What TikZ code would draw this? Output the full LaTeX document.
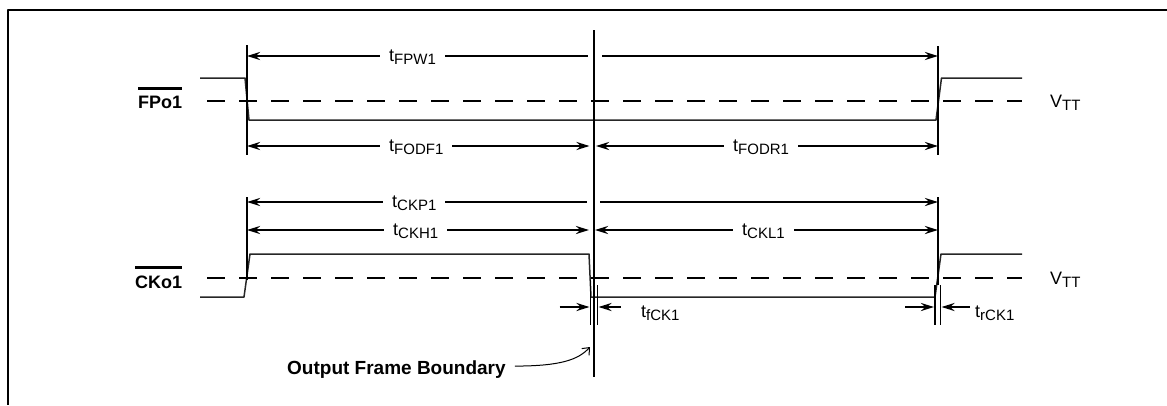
\documentclass[tikz,border=0pt]{standalone}
\usepackage{fontspec}
\setmainfont{Liberation Sans}
\usetikzlibrary{arrows.meta}
\newcommand{\tsub}[2]{#1\raisebox{-3pt}{\fontsize{15}{15}\selectfont #2}}
\newcommand{\ovl}[1]{\vbox{\hrule height 3pt\kern 6pt\hbox{#1}}}
\tikzset{
  sig/.style={line width=1.5pt,black!85},
  vtt/.style={line width=1.8pt,dash pattern=on 18pt off 14pt},
  mrk/.style={line width=2.4pt},
  thin mrk/.style={line width=1.6pt},
  dim line/.style={line width=2.4pt},
  lab/.style={fill=white,inner xsep=9pt,inner ysep=1pt,anchor=base west},
  sig name/.style={font=\fontsize{18}{20}\selectfont\bfseries,anchor=base west},
}
\begin{document}
\begin{tikzpicture}[x=1pt,y=-1pt,>={Stealth[length=13pt,width=8pt]},line join=round,
    every node/.style={font=\fontsize{18}{20}\selectfont,inner sep=0pt}]
  \def\xA{247} \def\xB{594} \def\xC{938}
  \useasboundingbox (0,0) rectangle (1167,405);
  % frame
  \draw[line width=2.4pt] (1167,10) -- (8,10) -- (8,405);

  % signal names and levels
  \node[sig name] (fpo) at (138,108) {\ovl{FPo1}};
  \node[sig name] (cko) at (135,288) {\ovl{CKo1}};
  \draw[vtt] (207,101) -- (1022,101);
  \draw[vtt] (207,278) -- (1022,278);
  \node[anchor=base west] (vttfp) at (1050,107) {\tsub{V}{TT}};
  \node[anchor=base west] (vttck) at (1050,284) {\tsub{V}{TT}};

  % waveforms
  \draw[sig] (200,78) -- (245,78) -- (249,120) -- (936,120) -- (941.5,78) -- (1022,78);
  \draw[sig] (200,297) -- (244,297) -- (250,254) -- (589,254) -- (591,297)
    -- (935,297) -- (941,254) -- (1022,254);

  % reference lines
  \draw[mrk] (\xA,45) -- (\xA,155);
  \draw[mrk] (\xC,46) -- (\xC,155);
  \draw[mrk] (\xB,30) -- (\xB,377);
  \draw[mrk] (\xA,197) -- (\xA,280);
  \draw[mrk] (\xC,197) -- (\xC,285);
  \draw[thin mrk] (590.5,280) -- (590.5,325);
  \draw[thin mrk] (597.5,285) -- (597.5,325);
  \draw[thin mrk] (935,285) -- (935,325);
  \draw[thin mrk] (940.5,285) -- (940.5,325);

  % dimensions
  \foreach \r/\y in {fpw/56,fod/146,ckp/202,ckh/230}{
    \coordinate (\r A) at (\xA,\y);
    \coordinate (\r B) at (\xB,\y);
    \coordinate (\r C) at (\xC,\y);
  }
  \draw[dim line,<-] (fpwA) -- ([xshift=-6pt]fpwB);
  \draw[dim line,->] ([xshift=8pt]fpwB) -- (fpwC);
  \draw[dim line,<->] (fodA) -- ([xshift=-4.5pt]fodB);
  \draw[dim line,<->] ([xshift=2pt]fodB) -- (fodC);
  \draw[dim line,<-] (ckpA) -- ([xshift=-7pt]ckpB);
  \draw[dim line,->] ([xshift=6pt]ckpB) -- (ckpC);
  \draw[dim line,<->] (ckhA) -- ([xshift=-5pt]ckhB);
  \draw[dim line,<->] ([xshift=1pt]ckhB) -- (ckhC);
  \node[lab] (tfpw) at (380,61) {\tsub{t}{FPW1}};
  \node[lab] (tfodf) at (380,151) {\tsub{t}{FODF1}};
  \node[lab] (tfodr) at (724,151) {\tsub{t}{FODR1}};
  \node[lab] (tckp) at (383,207) {\tsub{t}{CKP1}};
  \node[lab] (tckh) at (384,235) {\tsub{t}{CKH1}};
  \node[lab] (tckl) at (733,235) {\tsub{t}{CKL1}};

  % edge times
  \coordinate (fckL) at (589.5,307); \coordinate (fckR) at (598.5,307);
  \coordinate (rckL) at (934,307); \coordinate (rckR) at (941.5,307);
  \draw[dim line,->] ([xshift=-30pt]fckL) -- (fckL);
  \draw[dim line,->] ([xshift=22pt]fckR) -- (fckR);
  \draw[dim line,->] ([xshift=-29pt]rckL) -- (rckL);
  \draw[dim line,->] ([xshift=28pt]rckR) -- (rckR);
  \node[anchor=base west] (tfck) at (641,317) {\tsub{t}{fCK1}};
  \node[anchor=base west] (trck) at (975,317) {\tsub{t}{rCK1}};

  % frame boundary callout
  \node[font=\fontsize{19}{21}\selectfont\bfseries,anchor=base west] (ofb) at (287,374) {Output Frame Boundary};
  \coordinate (ofbTip) at (590,347);
  \draw[line width=1pt,-{Straight Barb[length=6pt,width=10pt]}]
    ([xshift=9pt,yshift=3pt]ofb.east) .. controls (560,366) and (578,360) .. (ofbTip);
\end{tikzpicture}
\end{document}
